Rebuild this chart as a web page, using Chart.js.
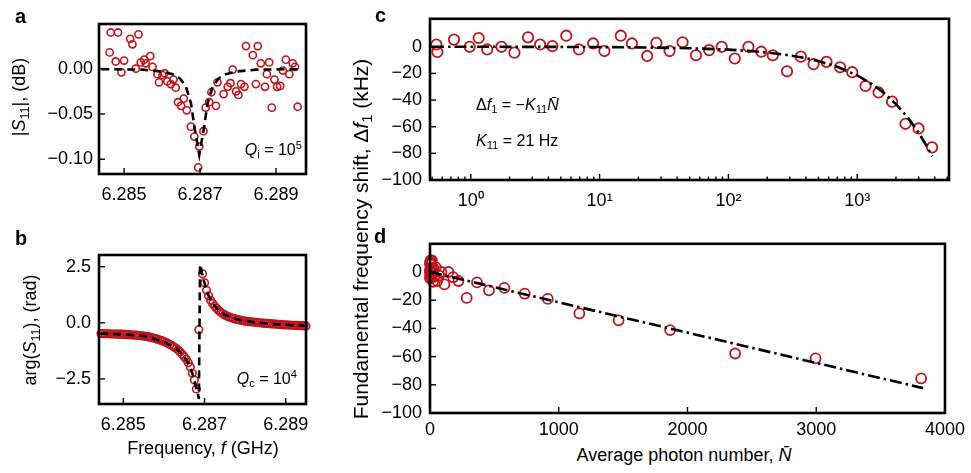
<!DOCTYPE html>
<html>
<head>
<meta charset="utf-8">
<title>Resonator response and photon-number frequency shift</title>
<script src="https://cdn.jsdelivr.net/npm/chart.js@4.4.1/dist/chart.umd.min.js"></script>
<style>
  html, body { margin: 0; padding: 0; background: #fff; }
  body { position: relative; width: 971px; height: 473px; overflow: hidden;
         font-family: "Liberation Sans", Arial, Helvetica, sans-serif; color: #000; }
  canvas { position: absolute; }
  .t { position: absolute; white-space: nowrap; line-height: 1; }
  .letter { font-weight: bold; font-size: 20px; }
  .ttl { font-size: 18px; }
  .big { font-size: 21px; }
  .note { font-size: 16px; }
  .sub { font-size: 0.7em; position: relative; top: 0.3em; }
  .sup { font-size: 0.7em; position: relative; top: -0.55em; }
  .rot { transform: translate(-50%, -50%) rotate(-90deg); }
  .cx { transform: translateX(-50%); }
</style>
</head>
<body>
<canvas id="chartA" width="320" height="215" style="left:0;top:0"></canvas>
<canvas id="chartB" width="320" height="210" style="left:0;top:230px"></canvas>
<canvas id="chartC" width="631" height="215" style="left:340px;top:0"></canvas>
<canvas id="chartD" width="631" height="215" style="left:340px;top:225px"></canvas>

<div class="t letter" style="left:15px;top:6px">a</div>
<div class="t letter" style="left:15px;top:228px">b</div>
<div class="t letter" style="left:375px;top:5px">c</div>
<div class="t letter" style="left:374px;top:226px">d</div>

<div class="t ttl rot" style="left:19px;top:97px">|<i>S</i><span class="sub">11</span>|, (dB)</div>
<div class="t ttl rot" style="left:30px;top:330px">arg(<i>S</i><span class="sub">11</span>), (rad)</div>
<div class="t ttl cx" style="left:203px;top:439px">Frequency, <i>f</i> (GHz)</div>
<div class="t ttl big rot" style="left:360px;top:239px">Fundamental frequency shift, &Delta;<i>f</i><span class="sub">1</span> (kHz)</div>
<div class="t ttl cx" style="left:684px;top:446px">Average photon number, <i>N&#772;</i></div>

<div class="t note" style="right:669px;top:142px"><i>Q</i><span class="sub">i</span> = 10<span class="sup">5</span></div>
<div class="t note" style="right:674px;top:371px"><i>Q</i><span class="sub">c</span> = 10<span class="sup">4</span></div>
<div class="t note" style="left:476px;top:97px">&Delta;<i>f</i><span class="sub">1</span> = &minus;<i>K</i><span class="sub">11</span><i>N&#772;</i></div>
<div class="t note" style="left:476px;top:133px"><i>K</i><span class="sub">11</span> = 21 Hz</div>

<script>
// panel a: |S11| (dB) against frequency (GHz)
const freqA = [6.28465, 6.28484, 6.28462, 6.28478, 6.28493, 6.28500, 6.28516, 6.28522, 6.28538, 6.28531,
  6.28544, 6.28553, 6.28557, 6.28569, 6.28575, 6.28588, 6.28592, 6.28601, 6.28607, 6.28614,
  6.28623, 6.28630, 6.28636, 6.28642, 6.28650, 6.28657, 6.28665, 6.28676, 6.28685, 6.28698,
  6.28695, 6.28709, 6.28715, 6.28724, 6.28730, 6.28742, 6.28746, 6.28762, 6.28773, 6.28786,
  6.28780, 6.28795, 6.28801, 6.28808, 6.28817, 6.28821, 6.28839, 6.28852, 6.28847, 6.28860,
  6.28871, 6.28876, 6.28882, 6.28889, 6.28896, 6.28903, 6.28911, 6.28918, 6.28926, 6.28935,
  6.28944, 6.28950, 6.28957]
const magA = [0.040, 0.040, 0.018, 0.008, -0.004, 0.009, 0.033, 0.027, 0.038, 0.000,
  0.007, 0.010, 0.006, 0.014, 0.002, -0.006, -0.015, -0.007, -0.005, -0.014,
  -0.017, -0.012, -0.021, -0.037, -0.041, -0.033, -0.046, -0.064, -0.075, -0.086,
  -0.109, -0.069, -0.043, -0.037, -0.026, -0.041, -0.015, -0.028, -0.020, -0.001,
  -0.016, -0.025, -0.029, -0.017, -0.020, 0.025, 0.015, 0.025, -0.017, 0.006,
  -0.020, -0.006, 0.007, -0.043, -0.012, -0.020, -0.019, -0.002, 0.010, -0.006,
  0.006, 0.002, -0.042]
const fitFreqA = [6.28440, 6.28548, 6.28598, 6.28628, 6.28648, 6.28663, 6.28676, 6.28686, 6.28698,
  6.28710, 6.28720, 6.28733, 6.28748, 6.28768, 6.28798, 6.28848, 6.28958]
const fitMagA = [-0.0005, -0.001, -0.003, -0.006, -0.011, -0.020, -0.038, -0.066, -0.095,
  -0.066, -0.038, -0.020, -0.011, -0.006, -0.003, -0.001, -0.0005]
const xTicksA = [6.285, 6.287, 6.289]
const yTicksA = [0, -0.05, -0.1]

// panel b: arg(S11) (rad) against frequency (GHz)
const freqB = [6.28445, 6.28450, 6.28455, 6.28460, 6.28465, 6.28470, 6.28475, 6.28480, 6.28485, 6.28490,
  6.28495, 6.28500, 6.28505, 6.28510, 6.28515, 6.28520, 6.28525, 6.28530, 6.28535, 6.28540,
  6.28545, 6.28550, 6.28555, 6.28560, 6.28565, 6.28570, 6.28575, 6.28580, 6.28585, 6.28590,
  6.28595, 6.28600, 6.28605, 6.28610, 6.28615, 6.28620, 6.28625, 6.28630, 6.28635, 6.28640,
  6.28645, 6.28650, 6.28655, 6.28660, 6.28665, 6.28670, 6.28675, 6.28680,
  6.28686,
  6.28695, 6.28700, 6.28705, 6.28710, 6.28715, 6.28720, 6.28725, 6.28730, 6.28735, 6.28740,
  6.28745, 6.28750, 6.28755, 6.28760, 6.28765, 6.28770, 6.28775, 6.28780, 6.28785, 6.28790,
  6.28795, 6.28800, 6.28805, 6.28810, 6.28815, 6.28820, 6.28825, 6.28830, 6.28835, 6.28840,
  6.28845, 6.28850, 6.28855, 6.28860, 6.28865, 6.28870, 6.28875, 6.28880, 6.28885, 6.28890,
  6.28895, 6.28900, 6.28905, 6.28910, 6.28915, 6.28920, 6.28925, 6.28930, 6.28935, 6.28940,
  6.28945, 6.28950]
const phaseB = [-0.48, -0.48, -0.49, -0.49, -0.49, -0.50, -0.50, -0.50, -0.51, -0.51,
  -0.51, -0.52, -0.52, -0.53, -0.53, -0.54, -0.55, -0.55, -0.56, -0.57,
  -0.58, -0.59, -0.61, -0.62, -0.64, -0.66, -0.68, -0.71, -0.74, -0.77,
  -0.80, -0.84, -0.88, -0.92, -0.97, -1.02, -1.08, -1.14, -1.21, -1.30,
  -1.40, -1.51, -1.63, -1.78, -1.97, -2.25, -2.55, -2.95,
  -0.31,
  2.18, 1.78, 1.45, 1.20, 1.00, 0.86, 0.74, 0.64, 0.55, 0.47,
  0.40, 0.35, 0.30, 0.26, 0.23, 0.20, 0.17, 0.15, 0.13, 0.11,
  0.09, 0.07, 0.06, 0.05, 0.04, 0.03, 0.02, 0.01, 0.00, -0.01,
  -0.02, -0.03, -0.03, -0.04, -0.05, -0.05, -0.06, -0.07, -0.07, -0.08,
  -0.09, -0.09, -0.10, -0.10, -0.11, -0.11, -0.12, -0.12, -0.13, -0.13,
  -0.14, -0.14]
const fitFreqB = [6.28443, 6.2850, 6.2855, 6.2860, 6.2863, 6.2865, 6.2866, 6.2867, 6.28675, 6.2868,
  6.28684, 6.28686, 6.28689, 6.28692, 6.28696, 6.2870, 6.28705, 6.2871, 6.2872, 6.2873,
  6.2875, 6.2878, 6.2882, 6.2886, 6.2890, 6.2895]
const fitPhaseB = [-0.48, -0.52, -0.59, -0.84, -1.14, -1.51, -1.78, -2.25, -2.55, -2.95,
  -3.2, -3.4, 2.6, 2.4, 2.0, 1.78, 1.45, 1.20, 0.86, 0.64,
  0.35, 0.15, 0.03, -0.04, -0.09, -0.14]
const yTicksB = [2.5, 0, -2.5]

// panels c and d: frequency shift (kHz) against average photon number
const photonN = [0.54, 0.55, 0.74, 0.98, 1.15, 1.34, 1.73, 2.18, 2.78, 3.45,
  4.30, 5.51, 6.91, 8.91, 10.9, 14.6, 17.8, 23.4, 27.6, 34.9,
  44.1, 56.0, 70.8, 88.7, 112, 143, 180, 221, 285, 365,
  458, 578, 736, 915, 1160, 1465, 1865, 2370, 2995, 3815]
const shiftKHz = [1.7, -3.9, 5.4, 0.0, 6.6, -2.0, 0.0, -4.4, 7.1, 1.7,
  0.5, 8.3, -2.0, 2.5, -3.2, 8.3, 2.5, -6.9, 2.9, -3.2,
  3.4, -6.4, -2.5, 0.0, -8.8, 0.0, -3.7, -6.4, -18.4, -7.4,
  -13.0, -11.3, -15.4, -19.1, -29.4, -34.3, -41.2, -57.8, -61.3, -75.5]
const fitN = [0.5, 1, 2, 5, 10, 20, 50, 100, 150, 200, 300, 400, 500, 700,
  1000, 1300, 1600, 2000, 2500, 3000, 3500, 3830]
const fitShift = [-0.01, -0.02, -0.04, -0.11, -0.22, -0.43, -1.08, -2.15, -3.23, -4.3, -6.45, -8.6, -10.75, -15.05,
  -21.5, -27.95, -34.4, -43, -53.75, -64.5, -75.25, -82.35]
const yTicksCD = [0, -20, -40, -60, -80, -100]
const decadesC = [1, 10, 100, 1000]
const minorStepsC = [2, 3, 4, 5, 6, 7, 8, 9]
const xTicksD = [0, 1000, 2000, 3000, 4000]

Chart.defaults.font.family = '"Liberation Sans", Arial, Helvetica, sans-serif'
Chart.defaults.color = '#000'

const RED = '#c0141c'
const toPts = (xs, ys) => xs.map((x, i) => ({ x, y: ys[i] }))
const minus = (s) => String(s).replace('-', '\u2212')
const SUP = { 0: '\u2070', 1: '\u00b9', 2: '\u00b2', 3: '\u00b3' }

const pointsSet = (xs, ys, r, w) => ({
  data: toPts(xs, ys),
  showLine: false,
  pointStyle: 'circle',
  pointRadius: r,
  pointBorderWidth: w,
  pointBorderColor: RED,
  pointBackgroundColor: 'rgba(255,255,255,0)',
  borderColor: RED,
  clip: false,
})

const lineSet = (xs, ys, dash) => ({
  data: toPts(xs, ys),
  showLine: true,
  pointRadius: 0,
  borderColor: '#000',
  borderWidth: 2.6,
  borderDash: dash,
  fill: false,
  tension: 0,
})

// frame round the plot area plus inward tick marks
const boxAndTicks = {
  id: 'boxAndTicks',
  afterDatasetsDraw(chart) {
    const { ctx, chartArea } = chart
    const { left, top, right, bottom } = chartArea
    const sx = chart.scales.x
    const sy = chart.scales.y
    ctx.save()
    ctx.strokeStyle = '#000'
    ctx.lineWidth = 1.4
    sx.ticks.forEach((t) => {
      const px = sx.getPixelForValue(t.value)
      const len = t.minor ? 3.5 : 6
      ctx.beginPath()
      ctx.moveTo(px, bottom)
      ctx.lineTo(px, bottom - len)
      ctx.stroke()
    })
    sy.ticks.forEach((t) => {
      const py = sy.getPixelForValue(t.value)
      ctx.beginPath()
      ctx.moveTo(left, py)
      ctx.lineTo(left + 6, py)
      ctx.stroke()
    })
    ctx.lineWidth = 2.6
    ctx.strokeRect(left, top, right - left, bottom - top)
    ctx.restore()
  },
}

const axis = ({ type = 'linear', min, max, ticks, minor = [], label, size, horizontal, padding, fontSize }) => ({
  type,
  min,
  max,
  grid: { display: false, drawTicks: false },
  border: { display: false },
  afterBuildTicks: (scale) => {
    scale.ticks = ticks.map((v) => ({ value: v })).concat(minor.map((v) => ({ value: v, minor: true })))
  },
  afterFit: (scale) => {
    if (horizontal) scale.height = size
    else scale.width = size
  },
  ticks: {
    autoSkip: false,
    maxRotation: 0,
    padding,
    font: { size: fontSize },
    color: '#000',
    callback: label,
  },
})

const panel = (id, pad, x, y, datasets) =>
  new Chart(document.getElementById(id), {
    type: 'scatter',
    data: { datasets },
    options: {
      responsive: false,
      animation: false,
      layout: { padding: pad, autoPadding: false },
      plugins: { legend: { display: false }, tooltip: { enabled: false } },
      scales: { x, y },
    },
    plugins: [boxAndTicks],
  })

// a
panel('chartA', { top: 24, right: 14, bottom: 0, left: 0 },
  axis({ min: 6.28434, max: 6.28979, ticks: xTicksA, label: (v) => v.toFixed(3), size: 41, horizontal: true, padding: 10, fontSize: 18 }),
  axis({ min: -0.1163, max: 0.0494, ticks: yTicksA, label: (v) => minus(v.toFixed(2)), size: 99, padding: 6, fontSize: 18 }),
  [lineSet(fitFreqA, fitMagA, [8, 5]), pointsSet(freqA, magA, 3.6, 1.6)])

// b
panel('chartB', { top: 25, right: 14, bottom: 0, left: 0 },
  axis({ min: 6.2844, max: 6.2895, ticks: xTicksA, label: (v) => v.toFixed(3), size: 36, horizontal: true, padding: 10, fontSize: 18 }),
  axis({ min: -3.62, max: 3.02, ticks: yTicksB, label: (v) => minus(v.toFixed(1)), size: 99, padding: 8, fontSize: 18 }),
  [lineSet(fitFreqB, fitPhaseB, [8, 5]), pointsSet(freqB, phaseB, 3.8, 1.6)])

// c: log photon axis with minor ticks
const minorC = [0.1, 1, 10, 100, 1000]
  .flatMap((d) => minorStepsC.map((m) => d * m))
  .filter((v) => v > 0.482 && v < 5160)

panel('chartC', { top: 15, right: 22, bottom: 0, left: 0 },
  axis({
    type: 'logarithmic', min: 0.482, max: 5160, ticks: decadesC, minor: minorC,
    label: (v) => (decadesC.includes(v) ? '10' + SUP[Math.round(Math.log10(v))] : ''),
    size: 35, horizontal: true, padding: 10, fontSize: 18,
  }),
  axis({ min: -100, max: 21, ticks: yTicksCD, label: (v) => minus(v), size: 90, padding: 8, fontSize: 18 }),
  [lineSet(fitN, fitShift, [12, 4, 2.5, 4]), pointsSet(photonN, shiftKHz, 5.2, 1.8)])

// d: linear photon axis
panel('chartD', { top: 18, right: 22, bottom: 0, left: 0 },
  axis({ min: 0, max: 4000, ticks: xTicksD, label: (v) => String(v), size: 27, horizontal: true, padding: 6, fontSize: 18 }),
  axis({ min: -100, max: 20, ticks: yTicksCD, label: (v) => minus(v), size: 90, padding: 8, fontSize: 18 }),
  [lineSet(fitN, fitShift, [12, 4, 2.5, 4]), pointsSet(photonN, shiftKHz, 5, 1.8)])
</script>
</body>
</html>
